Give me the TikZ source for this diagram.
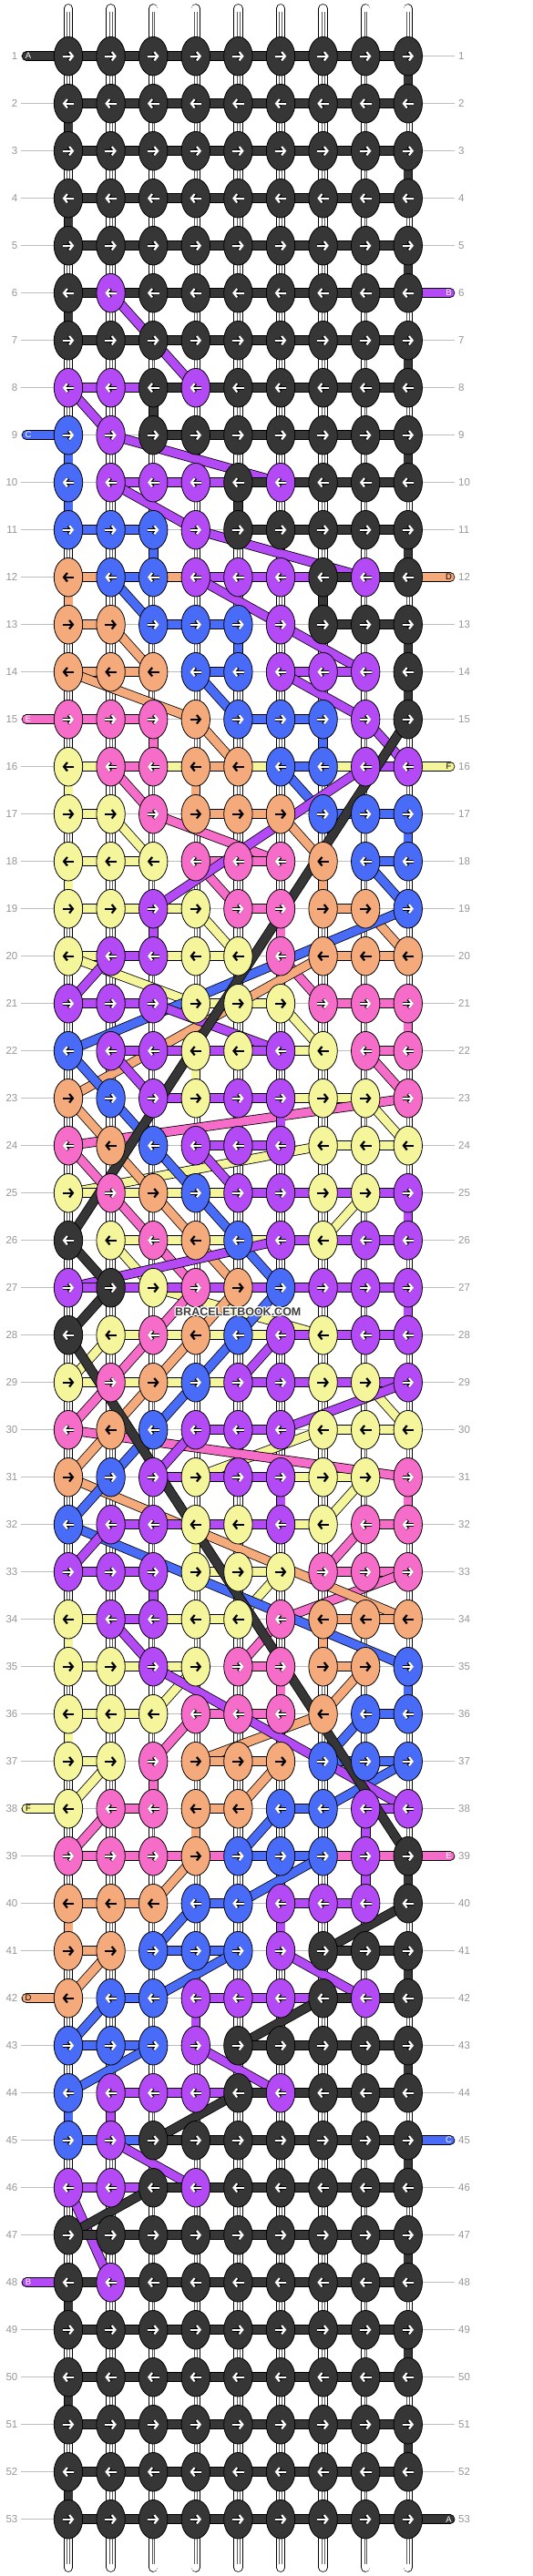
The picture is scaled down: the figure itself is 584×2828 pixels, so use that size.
\documentclass[tikz,border=0pt]{standalone}
\usepackage{fontspec}
\setmainfont{Liberation Sans}
\usetikzlibrary{arrows.meta,shapes.geometric}
\definecolor{cK}{HTML}{363636}
\definecolor{cP}{HTML}{B44AF5}
\definecolor{cB}{HTML}{486CF7}
\definecolor{cO}{HTML}{F5AA7B}
\definecolor{cN}{HTML}{F56CC9}
\definecolor{cY}{HTML}{F5F59C}
\definecolor{rowgrey}{HTML}{BEBEBE}
\definecolor{numgrey}{HTML}{969696}
\definecolor{wmgrey}{HTML}{3C3C3C}
\tikzset{
  strand/.style={draw=black, line width=0.8pt, double=#1, double distance=9pt, line cap=round},
  knot/.style={ellipse, draw=black, line width=0.8pt, minimum width=31.4pt, minimum height=42.6pt, inner sep=0pt},
  arrowin/.style={draw=#1, line width=2.2pt, -{Straight Barb[length=3.8pt,width=9.5pt]}},
  arrowout/.style={draw=black, line width=3.6pt, -{Straight Barb[length=3.8pt,width=9.5pt]}},
  tube/.style={draw=black, line width=0.8pt, double=white, double distance=8.8pt, line cap=round},
  tubeline/.style={draw=black!65, line width=0.55pt},
  rowline/.style={draw=rowgrey, line width=1pt},
  rownum/.style={text=numgrey, font=\fontsize{11.5}{13}\selectfont, inner sep=0pt},
  stublabel/.style={font=\fontsize{9.5}{11}\selectfont, inner sep=0pt},
  wmark/.style={font=\fontsize{12.5}{14}\selectfont\bfseries, inner sep=0pt},
}
\ExplSyntaxOn
\seq_new:N \g_bb_rows_seq
\seq_gset_from_clist:Nn \g_bb_rows_seq {
KKKKKKKKK,KKKKKKKKK,KKKKKKKKK,KKKKKKKKK,KKKKKKKKK,
KPKKKKKKK,KKKKKKKKK,PPKPKKKKK,BPKKKKKKK,BPPPKPKKK,
BBBPKKKKK,OBBPPPKPK,OOBBBPKKK,OOOBBPPPK,NNNOBBBPK,
YNNOOBBPP,YYNOOOBBB,YYYNNNOBB,YYPYNNOOB,YPPYYNOOO,
PPPYYYNNN,BPPYYPYNN,OBPYPPYYN,NOBPPPYYY,YNOBPPYYP,
KYNOBPYPP,PKYNOBPPP,KYNOBPYPP,YNOBPPYYP,NOBPPPYYY,
OBPYPPYYN,BPPYYPYNN,PPPYYYNNN,YPPYYNOOO,YYPYNNOOB,
YYYNNNOBB,YYNOOOBBB,YNNOOBBPP,NNNOBBBPK,OOOBBPPPK,
OOBBBPKKK,OBBPPPKPK,BBBPKKKKK,BPPPKPKKK,BPKKKKKKK,
PPKPKKKKK,KKKKKKKKK,KPKKKKKKK,KKKKKKKKK,KKKKKKKKK,
KKKKKKKKK,KKKKKKKKK,KKKKKKKKK
}
\tl_new:N \l_bb_prev_tl
\tl_new:N \l_bb_first_tl
\tl_new:N \l_bb_cur_tl
\tl_new:N \l_bb_row_tl
\tl_new:N \l_bb_c_tl
\tl_new:N \l_bb_a_tl
\tl_new:N \l_bb_b_tl
\int_new:N \l_bb_col_int
\bool_new:N \l_bb_dark_bool

\cs_new_protected:Npn \bb_coords:
 {
   \int_step_inline:nn {53}
    {
      \int_step_inline:nn {9}
       { \coordinate~(c-##1-####1)~at~({75+(####1-1)*46.6},{61.7+(##1-1)*52}); }
    }
 }

\cs_new_protected:Npn \bb_seg:nnn #1#2#3 { \draw[strand=c#3]~(#1)~--~(#2); }
\cs_generate_variant:Nn \bb_seg:nnn { VVn , nVn , Vnn }

\cs_new_protected:Npn \bb_walk:nnn #1#2#3
 {
   \tl_clear:N \l_bb_prev_tl
   \tl_clear:N \l_bb_first_tl
   \int_step_inline:nn {53}
    {
      \tl_set:Nx \l_bb_row_tl { \seq_item:Nn \g_bb_rows_seq {##1} }
      \int_step_inline:nn {9}
       {
         \int_set:Nn \l_bb_col_int { \int_if_odd:nTF {##1} {####1} {10-####1} }
         \str_if_eq:eeT { \tl_item:Nn \l_bb_row_tl {\l_bb_col_int} } {#1}
          {
            \tl_set:Nx \l_bb_cur_tl { c-##1-\int_use:N \l_bb_col_int }
            \tl_if_empty:NTF \l_bb_prev_tl
             { \tl_set_eq:NN \l_bb_first_tl \l_bb_cur_tl }
             { \bb_seg:VVn \l_bb_prev_tl \l_bb_cur_tl {#1} }
            \tl_set_eq:NN \l_bb_prev_tl \l_bb_cur_tl
          }
       }
    }
   \bb_seg:nVn {#2} \l_bb_first_tl {#1}
   \bb_seg:Vnn \l_bb_prev_tl {#3} {#1}
 }

\cs_new_protected:Npn \bb_knot:nnn #1#2#3
 {
   \node[knot,fill=c#3]~(k-#1-#2)~at~(c-#1-#2)~{};
   \bool_set_false:N \l_bb_dark_bool
   \str_if_eq:nnT {#3}{Y} { \bool_set_true:N \l_bb_dark_bool }
   \str_if_eq:nnT {#3}{O} { \bool_set_true:N \l_bb_dark_bool }
   \int_if_odd:nTF {#1}
    { \tl_set:Nn \l_bb_a_tl {-6.3} \tl_set:Nn \l_bb_b_tl {6.3} }
    { \tl_set:Nn \l_bb_a_tl {6.3} \tl_set:Nn \l_bb_b_tl {-6.3} }
   \bool_if:NTF \l_bb_dark_bool
    {
      \draw[arrowin=black]~([xshift=\l_bb_a_tl pt]k-#1-#2.center)~--~([xshift=\l_bb_b_tl pt]k-#1-#2.center);
    }
    {
      \draw[arrowout]~([xshift=\l_bb_a_tl pt]k-#1-#2.center)~--~([xshift=\l_bb_b_tl pt]k-#1-#2.center);
      \draw[arrowin=white]~([xshift=\l_bb_a_tl pt]k-#1-#2.center)~--~([xshift=\l_bb_b_tl pt]k-#1-#2.center);
    }
 }
\cs_generate_variant:Nn \bb_knot:nnn { nnV }

\cs_new_protected:Npn \bb_knots:
 {
   \int_step_inline:nn {53}
    {
      \tl_set:Nx \l_bb_row_tl { \seq_item:Nn \g_bb_rows_seq {##1} }
      \int_step_inline:nn {9}
       {
         \tl_set:Nx \l_bb_c_tl { \tl_item:Nn \l_bb_row_tl {####1} }
         \bb_knot:nnV {##1} {####1} \l_bb_c_tl
       }
    }
 }
\cs_set_eq:NN \BBcoords \bb_coords:
\cs_set_eq:NN \BBwalk \bb_walk:nnn
\cs_set_eq:NN \BBknots \bb_knots:
\ExplSyntaxOff

\begin{document}
\begin{tikzpicture}[x=1pt,y=-1pt]
\useasboundingbox (0,0) rectangle (584,2828);
\fill[white] (0,0) rectangle (584,2828);
\BBcoords
% row guide lines, numbers, edge points
\foreach \r in {1,...,53} {
  \pgfmathsetmacro\ry{61.7+(\r-1)*52}
  \coordinate (gl-\r) at (23,\ry);
  \coordinate (gr-\r) at (499,\ry);
  \coordinate (eL-\r) at (29,\ry);
  \coordinate (eR-\r) at (494,\ry);
  \draw[rowline] (gl-\r) -- (gr-\r);
  \node[rownum, anchor=east] (ln-\r) at (19.5,\ry) {\r};
  \node[rownum, anchor=west] (rn-\r) at (503,\ry) {\r};
}
% base strings (tubes)
\foreach \i in {1,...,9} {
  \pgfmathsetmacro\tx{75+(\i-1)*46.6}
  \coordinate (tt-\i) at (\tx,9.4);
  \coordinate (tb-\i) at (\tx,2818.6);
  \coordinate (lt-\i) at (\tx,13);
  \coordinate (lb-\i) at (\tx,2815);
  \draw[tube] (tt-\i) -- (tb-\i);
  \draw[tubeline] ([xshift=-1.4pt]lt-\i) -- ([xshift=-1.4pt]lb-\i);
  \draw[tubeline] ([xshift=1.4pt]lt-\i) -- ([xshift=1.4pt]lb-\i);
}
% knotting strings, bottom to top
\BBwalk{Y}{eR-16}{eL-38}
\BBwalk{N}{eL-15}{eR-39}
\BBwalk{O}{eR-12}{eL-42}
\BBwalk{B}{eL-9}{eR-45}
\BBwalk{P}{eR-6}{eL-48}
\BBwalk{K}{eL-1}{eR-53}
% string end labels
\node[stublabel, text=white] (sA1) at (31,61.7) {A};
\node[stublabel, text=white] (sC1) at (31,477.7) {C};
\node[stublabel, text=white] (sE1) at (31,789.7) {E};
\node[stublabel, text=black] (sF2) at (31,1985.7) {F};
\node[stublabel, text=black] (sD2) at (31,2193.7) {D};
\node[stublabel, text=white] (sB2) at (31,2505.7) {B};
\node[stublabel, text=white] (sB1) at (492.5,321.7) {B};
\node[stublabel, text=black] (sD1) at (492.5,633.7) {D};
\node[stublabel, text=black] (sF1) at (492.5,841.7) {F};
\node[stublabel, text=white] (sE2) at (492.5,2037.7) {E};
\node[stublabel, text=white] (sC2) at (492.5,2349.7) {C};
\node[stublabel, text=white] (sA2) at (492.5,2765.7) {A};
% knots
\BBknots
% watermark
\foreach \dx/\dy [count=\n] in {1/0,-1/0,0/1,0/-1,1/1,1/-1,-1/1,-1/-1} {
  \node[wmark, text=white] (wmh-\n) at (261.3+\dx,1440+\dy) {BRACELETBOOK.COM};
}
\node[wmark, text=wmgrey] (wm) at (261.3,1440) {BRACELETBOOK.COM};
\end{tikzpicture}
\end{document}
